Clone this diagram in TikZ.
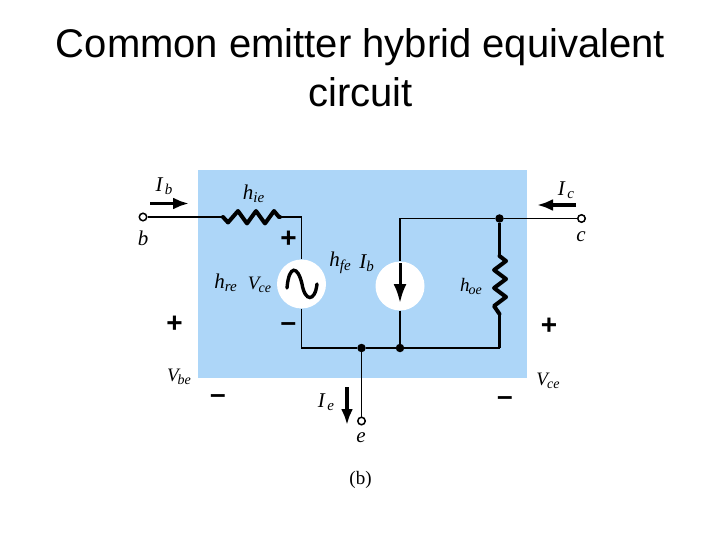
\documentclass[tikz,border=0pt]{standalone}
\usepackage{fontspec}
\setmainfont{Liberation Sans}
\newfontfamily\lblserif{Liberation Serif}
\definecolor{panelblue}{HTML}{ADD6F8}
\newcommand{\lb}[2]{{\lblserif\itshape\fontsize{21}{21}\selectfont #1\raisebox{-3.5pt}{\fontsize{15}{15}\selectfont #2}}}
\newcommand{\lbv}[2]{{\lblserif\itshape\fontsize{19}{19}\selectfont #1\raisebox{-3pt}{\fontsize{14}{14}\selectfont\kern-1pt #2}}}
\usetikzlibrary{arrows.meta}
\tikzset{
  x=1pt,y=-1pt,
  wire/.style={draw=black,line width=1.8pt},
  thick wire/.style={draw=black,line width=2.6pt},
  resistor/.style={draw=black,line width=4pt,line join=round,line cap=round},
  terminal/.style={circle,draw=black,fill=white,line width=1.5pt,minimum size=7.5pt,inner sep=0pt},
  dotjunction/.style={circle,fill=black,minimum size=8.5pt,inner sep=0pt},
  source/.style={circle,fill=white,minimum size=49pt,inner sep=0pt},
  currentarrow/.style={line width=3.4pt,-{Latex[length=16pt,width=12pt]}},
  sign/.style={font=\bfseries\fontsize{28}{28}\selectfont,inner sep=0pt},
  lab/.style={inner sep=0pt},
  title/.style={font=\fontsize{40}{40}\selectfont,inner sep=0pt}
}
\begin{document}
\begin{tikzpicture}
\useasboundingbox (0,0) rectangle (720,540);
\fill[white] (0,0) rectangle (720,540);
\node[title] (t1) at (360.5,47) {Common emitter hybrid equivalent};
\node[title] (t2) at (360.5,92.5) {circuit};
\fill[panelblue] (198,170) rectangle (527,378);
% nodes
\node[terminal] (b) at (143,217) {};
\node[terminal] (c) at (581.5,218.5) {};
\node[terminal] (e) at (361.5,421) {};
\node[source] (vs) at (301.5,284) {};
\node[source] (is) at (400,286) {};
\node[dotjunction] (jc) at (499.5,218.5) {};
\node[dotjunction] (je) at (361.5,348) {};
\node[dotjunction] (js) at (400,348) {};
\coordinate (ra) at (223,217);
\coordinate (rb) at (280,217);
\coordinate (rc) at (499.5,256);
\coordinate (rd) at (499.5,314);
\coordinate (tl) at (301.5,217);
\coordinate (bl) at (301.5,348);
\coordinate (tr) at (400,218.5);
\coordinate (br) at (499.5,348);
% wires
\draw[wire] (b) -- (ra);
\draw[wire] (rb) -- (tl) -- (vs.north);
\draw[wire] (vs.south) -- (bl) -- (je);
\draw[wire] (je) -- (js);
\draw[wire] (js) -- (br);
\draw[wire] (je) -- (e);
\draw[wire] (tr) -- (jc);
\draw[wire] (jc) -- (c);
\draw[wire] (tr) -- (is.north);
\draw[wire] (is.south) -- (js);
\draw[thick wire] (jc) -- (rc);
\draw[thick wire] (rd) -- (br);
% resistors
\draw[resistor] (ra) -- (228,222.5) -- (238,211) -- (247,223.5) -- (256,211) -- (265,223.5) -- (274,211) -- (279,217) -- (rb);
\draw[resistor] (rc) -- (506,261) -- (494,270) -- (506,279) -- (494,288) -- (506,297) -- (494,306) -- (rd);
% source symbols
\draw[line width=3.4pt,line cap=round] (287,288) .. controls (289,264) and (298,266) .. (302,284) .. controls (305,302) and (315,302) .. (317,284);
\draw[line width=3pt] (400,263) -- (400,285);
\draw[-{Latex[length=19pt,width=13pt]},line width=3pt] (400,280) -- (400,303);
% current arrows
\coordinate (iba) at (150,203.5);
\coordinate (ibb) at (189,203.5);
\coordinate (ica) at (576,205);
\coordinate (icb) at (537,205);
\coordinate (iea) at (347,387);
\coordinate (ieb) at (347,425);
\draw[currentarrow] (iba) -- (ibb);
\draw[currentarrow] (ica) -- (icb);
\draw[currentarrow] (iea) -- (ieb);
% signs
\node[sign] (p1) at (288.5,239) {+};
\node[sign] (m1) at (288.5,327) {–};
\node[sign] (p2) at (174.5,324) {+};
\node[sign] (m2) at (218,399) {–};
\node[sign] (p3) at (549,326) {+};
\node[sign] (m3) at (505,401) {–};
% labels
\node[lab] (lib) at (164,186) {\lb{I}{\,b}};
\node[lab] (lb) at (143,240) {\lb{b}{}};
\node[lab] (lhie) at (253.5,194) {\lb{h}{ie}};
\node[lab] (lhre) at (225.5,283) {\lb{h}{re}};
\node[lab] (lvce) at (259.5,285) {\lbv{V}{ce}};
\node[lab] (lhfe) at (340,263) {\lb{h}{fe}};
\node[lab] (lib2) at (366.5,263) {\lb{I}{b}};
\node[lab] (lhoe) at (471,286) {\lbv{h}{oe}};
\node[lab] (lic) at (566,190) {\lb{I}{\,c}};
\node[lab] (lc) at (581,238) {\lb{c}{}};
\node[lab] (lvbe) at (179,377) {\lbv{V}{be}};
\node[lab] (lvce2) at (548,381) {\lbv{V}{ce}};
\node[lab] (lie) at (326,402) {\lb{I}{\,e}};
\node[lab] (le) at (361,439) {\lb{e}{}};
\node[lab] (cap) at (360.5,480) {\lblserif\fontsize{19}{19}\selectfont (b)};
\end{tikzpicture}
\end{document}
